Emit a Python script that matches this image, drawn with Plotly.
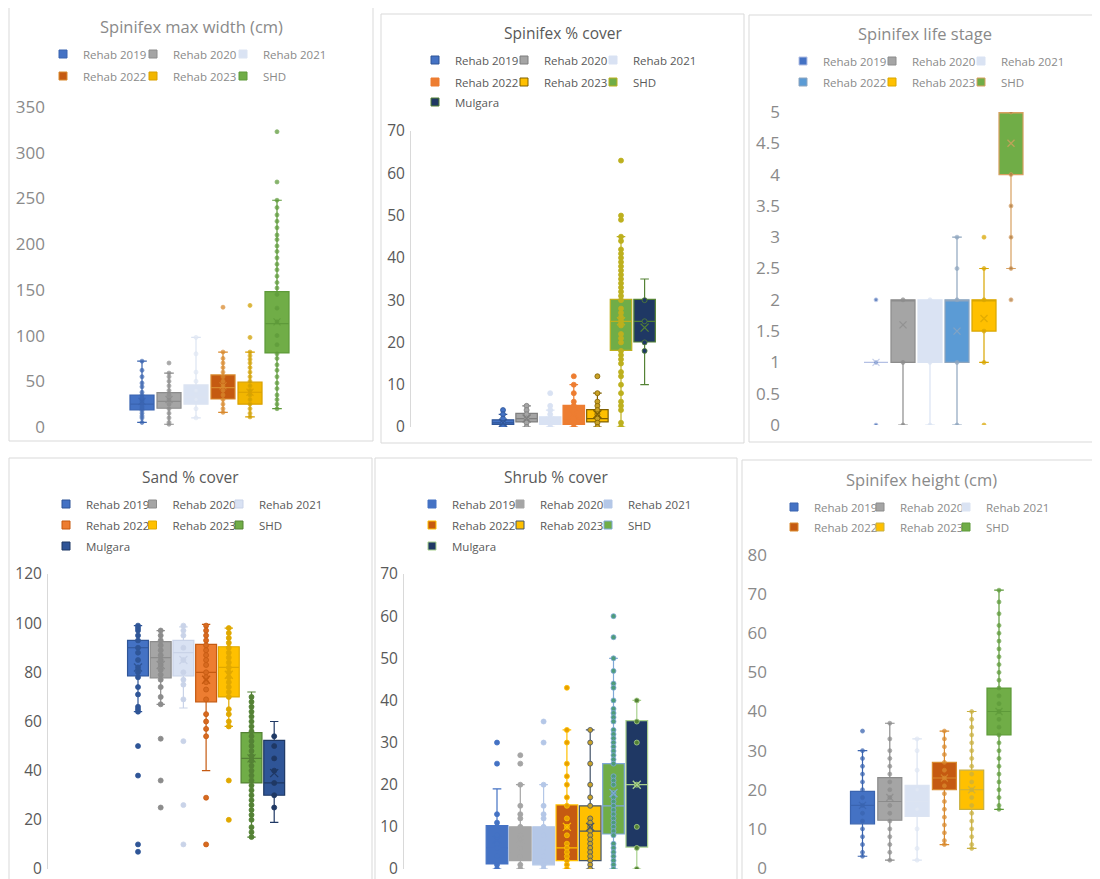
import plotly.graph_objects as go

W, H = 1100, 879
OFF = 8  # the page body adds an 8px margin around the figure
FW, FH = W - OFF, H - OFF + 20
NAMES = ["Rehab 2019", "Rehab 2020", "Rehab 2021", "Rehab 2022", "Rehab 2023", "SHD", "Mulgara"]

# ---------------- data ----------------
# Spinifex max width (cm)
width_q1 = [18.6, 20.5, 25, 30.6, 25, 81]
width_med = [25, 28, 33, 43, 38, 113]
width_q3 = [35, 37.5, 46, 57, 49, 148]
width_lo = [5, 3, 10, 16, 11, 20]
width_hi = [72, 59, 98, 82, 82, 248]
width_mean = [28, 30, 36, 45, 38, 115]
width_pts = [
    [72, 62, 55, 48, 44, 38, 35, 32, 30, 28, 25, 22, 20, 18, 15, 12, 10, 5],
    [70, 59, 55, 50, 45, 40, 35, 30, 25, 20, 15, 10, 5, 3],
    [98, 80, 60, 50, 40, 30, 20, 10],
    [131, 82, 75, 70, 65, 60, 55, 50, 45, 40, 35, 30, 25, 20, 16],
    [133, 98, 82, 78, 74, 70, 65, 60, 55, 50, 45, 40, 35, 30, 25, 20, 15, 11],
    [323, 268, 248, 240, 232, 225, 218, 210, 205, 198, 192, 185, 178, 172, 165, 158, 152,
     145, 130, 115, 100, 90, 80, 75, 68, 62, 55, 48, 42, 35, 30, 25, 20],
]

# Spinifex % cover
cover_q1 = [0.6, 1.2, 0.6, 0.6, 1.2, 18.1, 20.1]
cover_med = [1, 2, 1, 2, 2, 25, 25]
cover_q3 = [1.7, 3.2, 2.4, 5.1, 4.1, 30.2, 30.2]
cover_lo = [0, 0, 0, 0, 0, 0, 10]
cover_hi = [3, 5, 4, 10, 8, 45, 35]
cover_mean = [1, 2, 1.5, 3, 3, 25, 23.5]
cover_pts = [
    [4, 3, 2, 1, 0],
    [5, 4, 3, 2, 1, 0],
    [8, 5, 4, 3, 2, 1, 0],
    [12, 10, 8, 6, 5, 4, 3, 2, 1, 0],
    [12, 8, 6, 5, 4, 3, 2, 1, 0],
    [63, 50, 49, 45, 44, 42, 41, 40, 39, 38, 37, 36, 35, 34, 33, 32, 31, 30, 28, 27, 26, 25,
     24, 22, 21, 20, 18, 17, 16, 15, 13, 12, 10, 8, 6, 5, 4, 1, 0],
    [30, 25, 20, 18],
]

# Spinifex life stage
stage_q1 = [1, 1, 1, 1, 1.5, 4]
stage_med = [1, 2, 2, 2, 2, 5]
stage_q3 = [1, 2, 2, 2, 2, 5]
stage_lo = [1, 0, 0, 0, 1, 2.5]
stage_hi = [1, 2, 2, 3, 2.5, 5]
stage_mean = [1, 1.6, 1.6, 1.5, 1.7, 4.5]
stage_pts = [
    [2, 1, 0],
    [2, 1, 0],
    [2, 1, 0],
    [3, 2.5, 2, 1, 0],
    [3, 2.5, 2, 1.5, 1, 0],
    [5, 4, 3.5, 3, 2.5, 2],
]

# Sand % cover
sand_q1 = [78.5, 77.7, 78.5, 68, 70, 35, 30]
sand_med = [90, 86, 88, 80, 82, 45, 35]
sand_q3 = [93, 92.5, 93, 91.4, 90.4, 55.5, 52.3]
sand_lo = [64, 67, 65.5, 40, 58, 13, 19]
sand_hi = [99, 97, 98.5, 99.5, 98, 72, 60]
sand_mean = [82, 83, 85, 77, 79, 45, 39]
sand_pts = [
    [99, 98, 97, 95, 93, 90, 88, 85, 82, 80, 78, 74, 71, 66, 65, 64, 50, 38, 10, 7],
    [97, 95, 93, 91, 89, 87, 85, 83, 81, 79, 77, 74, 70, 67, 53, 36, 25],
    [99, 97, 95, 90, 85, 80, 77, 75, 69, 52, 26, 10],
    [99, 97, 95, 93, 91, 89, 87, 85, 83, 80, 78, 76, 73, 69, 63, 60, 57, 54, 29, 10],
    [98, 96, 94, 92, 90, 88, 86, 84, 82, 80, 78, 76, 74, 72, 70, 65, 63, 60, 58, 36, 20],
    [70, 68, 66, 64, 62, 60, 58, 56, 54, 52, 50, 48, 46, 44, 42, 40, 38, 36, 34, 32, 30, 28,
     26, 24, 22, 20, 17, 15, 13],
    [54, 50, 45, 40, 35, 30, 25],
]

# Shrub % cover
shrub_q1 = [1.2, 2, 1, 2, 2, 8.3, 5.2]
shrub_med = [5, 4, 5, 5, 9, 15, 20]
shrub_q3 = [10.3, 10, 10, 15.2, 15, 25, 35.2]
shrub_lo = [0, 0, 0, 0, 0, 0, 0]
shrub_hi = [19, 20, 20, 33, 33, 50, 40]
shrub_mean = [7, 7, 6, 10, 10, 18, 20]
shrub_pts = [
    [30, 25, 13, 11, 10, 8, 6, 5, 3, 1, 0],
    [27, 25, 20, 15, 13, 12, 10, 8, 7, 5, 3, 1, 0],
    [35, 30, 20, 15, 13, 12, 10, 8, 5, 3, 1, 0],
    [43, 33, 30, 25, 22, 20, 17, 15, 12, 10, 8, 6, 5, 4, 3, 2, 1, 0],
    [33, 30, 25, 20, 17, 15, 12, 11, 10, 9, 8, 7, 6, 5, 4, 3, 2, 1, 0],
    [60, 55, 50, 47, 44, 43, 40, 38, 37, 36, 35, 33, 32, 31, 30, 29, 28, 27, 26, 25, 22, 21,
     20, 18, 17, 16, 15, 14, 13, 12, 11, 10, 9, 8, 6, 5, 4, 3, 2, 1, 0],
    [40, 35, 30, 20, 10, 5, 0],
]

# Spinifex height (cm)
height_q1 = [11.3, 12.2, 13.2, 20, 15, 34]
height_med = [16, 17, 17, 23, 20, 40]
height_q3 = [19.6, 23.1, 21.1, 27, 25, 46]
height_lo = [3, 2, 2, 6, 5, 15]
height_hi = [30, 37, 33, 35, 40, 71]
height_mean = [16, 18, 17, 23, 20, 40]
height_pts = [
    [35, 30, 28, 26, 24, 22, 20, 18, 16, 14, 12, 10, 8, 6, 4, 3],
    [37, 33, 30, 28, 26, 24, 22, 20, 18, 16, 14, 12, 10, 8, 6, 4, 2],
    [33, 30, 25, 20, 15, 10, 5, 2],
    [35, 33, 31, 29, 27, 25, 23, 21, 19, 17, 15, 13, 11, 9, 7, 6],
    [40, 38, 36, 34, 32, 30, 28, 26, 24, 22, 20, 18, 16, 14, 12, 10, 8, 6, 5],
    [71, 68, 65, 62, 60, 58, 56, 54, 52, 50, 48, 46, 44, 42, 40, 38, 36, 34, 32, 30, 28, 26,
     24, 22, 20, 18, 16, 15],
]

# ---------------- layout / style per panel (page pixel positions) ----------------
panels = [
    dict(title="Spinifex max width (cm)", n=6,
         data=(width_q1, width_med, width_q3, width_lo, width_hi, width_mean, width_pts),
         frame=(9, 7, 373, 441), dom=(48, 107, 370, 427), c0=142, sp=27, bw=0.89,
         ymax=350, dtick=50, axisline=False, txt="#8a8a8a", soft=True,
         fills=["#4472C4", "#A5A5A5", "#DAE3F3", "#C55A11", "#F2B600", "#70AD47"],
         lines=["#3A64B0", "#8C8C8C", "#DCE4F2", "#D98A2E", "#D9A000", "#5E9A3A"],
         pcols=["#3A64B0", "#8C8C8C", "#E3E9F5", "#D98A2E", "#C9A000", "#5E9A3A"],
         leg=dict(x=67, rows=[54, 76], sp=90)),
    dict(title="Spinifex % cover", n=7,
         data=(cover_q1, cover_med, cover_q3, cover_lo, cover_hi, cover_mean, cover_pts),
         frame=(381, 14, 744, 443), dom=(411, 131, 740, 427), c0=503, sp=23.6, bw=0.91,
         ymax=70, dtick=10, axisline=True, txt="#595959", soft=False,
         fills=["#4472C4", "#A5A5A5", "#D9E2F3", "#ED7D31", "#FFC000", "#70AD47", "#1F3864"],
         lines=["#2F5597", "#7F7F7F", "#D9E2F3", "#ED7D31", "#806000", "#BDB01E", "#548235"],
         pcols=["#4472C4", "#A5A5A5", "#D9E2F3", "#ED7D31", "#C9A227", "#BDB01E", "#1F3864"],
         leg=dict(x=439, rows=[60, 82, 102], sp=89)),
    dict(title="Spinifex life stage", n=6,
         data=(stage_q1, stage_med, stage_q3, stage_lo, stage_hi, stage_mean, stage_pts),
         frame=(749, 15, 1110, 442), dom=(783, 112, 1095, 425), c0=876, sp=27, bw=0.89,
         ymax=5, dtick=0.5, axisline=False, txt="#8a8a8a", soft=True,
         fills=["#4472C4", "#A5A5A5", "#DAE3F3", "#5B9BD5", "#FFC000", "#70AD47"],
         lines=["#B4C0E4", "#8C8C8C", "#DAE3F3", "#8FA6BF", "#D9A600", "#D8A060"],
         pcols=["#3A64B0", "#8C8C8C", "#DAE3F3", "#8FA6BF", "#D9A600", "#B07A40"],
         leg=dict(x=807, rows=[61, 82], sp=89)),
    dict(title="Sand % cover", n=7,
         data=(sand_q1, sand_med, sand_q3, sand_lo, sand_hi, sand_mean, sand_pts),
         frame=(9, 458, 372, 895), dom=(48, 574, 368, 869), c0=138, sp=22.7, bw=0.92,
         ymax=120, dtick=20, axisline=True, txt="#595959", soft=False,
         fills=["#4472C4", "#A5A5A5", "#D9E2F3", "#ED7D31", "#FFC000", "#70AD47", "#2F5597"],
         lines=["#2F5597", "#8C8C8C", "#C9D3E8", "#C55A11", "#E0A800", "#548235", "#1F3864"],
         pcols=["#2F5597", "#8C8C8C", "#C9D3E8", "#D86A20", "#E0A800", "#548235", "#1F3864"],
         leg=dict(x=70, rows=[504, 525, 546], sp=86.5)),
    dict(title="Shrub % cover", n=7,
         data=(shrub_q1, shrub_med, shrub_q3, shrub_lo, shrub_hi, shrub_mean, shrub_pts),
         frame=(375, 458, 737, 895), dom=(404, 574, 735, 869), c0=497, sp=23.3, bw=0.93,
         ymax=70, dtick=10, axisline=True, txt="#595959", soft=False,
         fills=["#4472C4", "#A5A5A5", "#B4C7E7", "#C55A11", "#FFC000", "#70AD47", "#1F3864"],
         lines=["#4472C4", "#A5A5A5", "#B4C7E7", "#FFC000", "#44546A", "#7FA8D8", "#A9D18E"],
         pcols=["#4472C4", "#A5A5A5", "#B4C7E7", "#E8A000", "#C9A227", "#4E9C7A", "#548235"],
         leg=dict(x=436, rows=[504, 525, 546], sp=88)),
    dict(title="Spinifex height (cm)", n=6,
         data=(height_q1, height_med, height_q3, height_lo, height_hi, height_mean, height_pts),
         frame=(742, 460, 1110, 895), dom=(770, 555, 1095, 868), c0=862.5, sp=27.3, bw=0.88,
         ymax=80, dtick=10, axisline=False, txt="#8a8a8a", soft=True,
         fills=["#4472C4", "#A5A5A5", "#DAE3F3", "#C55A11", "#FFC000", "#70AD47"],
         lines=["#3A64B0", "#8C8C8C", "#DCE4F2", "#D98A2E", "#C9B040", "#5E9A3A"],
         pcols=["#3A64B0", "#8C8C8C", "#E3E9F5", "#D98A2E", "#C9B040", "#5E9A3A"],
         leg=dict(x=798, rows=[507, 527], sp=86)),
]

FONT = "Open Sans"
fig = go.Figure()
layout = dict(width=FW, height=FH, margin=dict(l=0, r=0, t=0, b=0, autoexpand=False),
              paper_bgcolor="white", plot_bgcolor="white", showlegend=True,
              font=dict(family=FONT), shapes=[], annotations=[])


def px_x(v):
    return (v - OFF) / FW


def px_y(v):
    return 1 - (v - OFF) / FH


legend_no = 0
for i, p in enumerate(panels):
    suffix = "" if i == 0 else str(i + 1)
    xa, ya = "x" + suffix, "y" + suffix
    names = NAMES[:p["n"]]
    q1, med, q3, lo, hi, mean, pts = p["data"]
    d0, dtop, d1, dbot = p["dom"]
    a = -(p["c0"] - d0) / p["sp"]
    b = a + (d1 - d0) / p["sp"]
    soft = p["soft"]
    tick_size = 17 if soft else 15.5
    title_size = 16.5 if soft else 15.5
    layout["xaxis" + suffix] = dict(
        domain=[px_x(d0), px_x(d1)], anchor=ya, type="category",
        categoryorder="array", categoryarray=names, range=[a, b],
        showticklabels=False, showline=False, showgrid=False, zeroline=False, ticks="",
        fixedrange=True)
    layout["yaxis" + suffix] = dict(
        domain=[px_y(dbot), px_y(dtop)], anchor=xa, range=[0, p["ymax"]],
        dtick=p["dtick"], tick0=0, showgrid=False, zeroline=False,
        showline=p["axisline"], linecolor="#D9D9D9", linewidth=1, ticks="", ticklen=0,
        tickfont=dict(family=FONT, size=tick_size, color=p["txt"]), ticklabelstandoff=2)
    # frame
    fx0, fy0, fx1, fy1 = p["frame"]
    layout["shapes"].append(dict(type="rect", xref="paper", yref="paper",
                                 x0=px_x(fx0), x1=px_x(fx1), y0=px_y(fy1), y1=px_y(fy0),
                                 line=dict(color="#D9D9D9", width=1), layer="below"))
    # title
    layout["annotations"].append(dict(
        text=p["title"], xref="paper", yref="paper",
        x=px_x((fx0 + min(fx1, W)) / 2), y=px_y(fy0 + 19), xanchor="center", yanchor="middle",
        showarrow=False, font=dict(family=FONT, size=title_size, color=p["txt"])))
    psize = 4 if soft else 5
    pop = 0.75 if soft else 1.0
    for k, nm in enumerate(names):
        fig.add_trace(go.Box(
            x=[nm], q1=[q1[k]], median=[med[k]], q3=[q3[k]],
            lowerfence=[lo[k]], upperfence=[hi[k]], width=p["bw"], whiskerwidth=0.4,
            fillcolor=p["fills"][k], line=dict(color=p["lines"][k], width=1.2),
            boxpoints=False, xaxis=xa, yaxis=ya, showlegend=False, hoverinfo="skip"))
        fig.add_trace(go.Scatter(
            x=[nm] * len(pts[k]), y=pts[k], mode="markers", xaxis=xa, yaxis=ya, opacity=pop,
            marker=dict(size=psize, color=p["pcols"][k], line=dict(width=0.8, color=p["lines"][k])),
            showlegend=False, hoverinfo="skip"))
        fig.add_trace(go.Scatter(
            x=[nm], y=[mean[k]], mode="markers", xaxis=xa, yaxis=ya, opacity=pop,
            marker=dict(symbol="x-thin", size=7 if soft else 8,
                        line=dict(width=1.3, color=p["lines"][k])),
            showlegend=False, hoverinfo="skip"))
    # legends, one per row
    lg = p["leg"]
    for r, ry in enumerate(lg["rows"]):
        legend_no += 1
        lid = "legend" if legend_no == 1 else "legend" + str(legend_no)
        layout[lid] = dict(
            orientation="h", x=px_x(lg["x"] - 24), y=px_y(ry), xanchor="left", yanchor="middle",
            xref="paper", yref="paper", bgcolor="rgba(0,0,0,0)", borderwidth=0,
            entrywidth=lg["sp"] - 45, entrywidthmode="pixels", itemclick=False,
            itemdoubleclick=False, font=dict(family=FONT, size=11.5, color=p["txt"]),
            tracegroupgap=0)
        row_items = list(range(r * 3, min(r * 3 + 3, p["n"])))
        for k in row_items:
            extra = dict(legendwidth=90) if k == row_items[-1] else {}
            fig.add_trace(go.Scatter(
                x=[None], y=[None], mode="markers", name=names[k], legend=lid,
                xaxis=xa, yaxis=ya,
                marker=dict(symbol="square", size=8, color=p["fills"][k],
                            line=dict(width=1, color=p["lines"][k])), **extra))

fig.update_layout(**layout)
fig.write_html("out.html")
